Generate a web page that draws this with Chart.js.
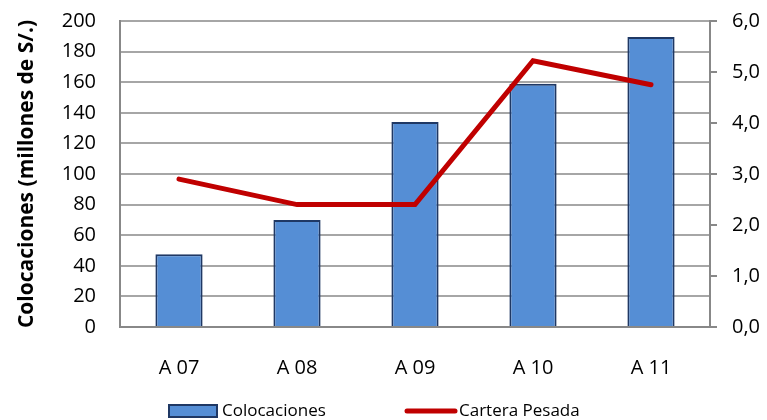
<!DOCTYPE html>
<html><head><meta charset="utf-8">
<script src="https://cdn.jsdelivr.net/npm/chart.js@4"></script>
<style>html,body{margin:0;padding:0;background:#fff}#w{width:767px;height:420px}</style>
</head><body><div id="w"><canvas id="c"></canvas></div>
<script>
const categories = ["A 07","A 08","A 09","A 10","A 11"];
const colocaciones = [47.5, 70, 134, 159, 189.5];
const carteraPesada = [2.9, 2.4, 2.4, 5.22, 4.75];
const FONT = "'Open Sans', 'Noto Sans', sans-serif";
Chart.defaults.font.family = FONT;
Chart.defaults.color = "#000";
const legendPlugin = {
  id:'customLegend',
  afterDraw(chart){
    const ctx = chart.ctx;
    const ds = chart.data.datasets;
    ctx.save();
    ctx.font = "17px " + FONT;
    ctx.textBaseline = 'middle';
    ctx.fillStyle = '#000';
    const bar = ds[1];
    ctx.fillStyle = bar.backgroundColor; ctx.fillRect(169, 405, 48, 12);
    ctx.strokeStyle = bar.borderColor; ctx.lineWidth = 2; ctx.strokeRect(169, 405, 48, 12);
    ctx.fillStyle = '#000'; ctx.fillText(bar.label, 222, 411);
    const ln = ds[0];
    ctx.strokeStyle = ln.borderColor; ctx.lineWidth = 5; ctx.lineCap = 'round';
    ctx.beginPath(); ctx.moveTo(407, 411); ctx.lineTo(455, 411); ctx.stroke();
    ctx.fillText(ln.label, 459, 411);
    ctx.restore();
  }
};
new Chart(document.getElementById('c'), {
  type: 'bar',
  data: {
    labels: categories,
    datasets: [
      {type:'line', label:'Cartera Pesada', data: carteraPesada, yAxisID:'y1',
       borderColor:'#c00000', backgroundColor:'#c00000', borderWidth:5,
       pointRadius:0, tension:0, order:0, borderCapStyle:'round'},
      {type:'bar', label:'Colocaciones', data: colocaciones, yAxisID:'y',
       backgroundColor:'#558ed5', borderColor:'#1f3864', borderWidth:2,
       categoryPercentage:1, barPercentage:0.4, order:1}
    ]
  },
  plugins:[legendPlugin],
  options: {
    responsive:true, maintainAspectRatio:false, animation:false,
    layout:{padding:{left:0,right:0,top:21,bottom:0}},
    plugins:{ legend:{display:false}, tooltip:{enabled:false} },
    scales:{
      x:{grid:{display:false, drawTicks:false}, border:{color:'#888', width:2},
         ticks:{font:{size:20}, padding:29},
         afterFit(s){ s.height = 93; s.paddingLeft = 0; s.paddingRight = 0; }},
      y:{position:'left', min:0, max:200,
         ticks:{stepSize:20, font:{size:20}, padding:24},
         grid:{color:'#a6a6a6', lineWidth:2, drawTicks:false},
         border:{color:'#888', width:2},
         title:{display:true, text:'Colocaciones (millones de S/.)', font:{size:21, weight:'bold'}, padding:{top:14,bottom:0}},
         afterFit(s){ s.width = 120; s.paddingTop = 0; s.paddingBottom = 0; }},
      y1:{position:'right', min:0, max:6,
         ticks:{stepSize:1, font:{size:20}, padding:15,
           callback:v=>v.toFixed(1).replace('.',',')},
         grid:{drawOnChartArea:false, color:'#888', lineWidth:2, tickLength:7},
         border:{color:'#888', width:2},
         afterFit(s){ s.width = 57; s.paddingTop = 0; s.paddingBottom = 0; }}
    }
  }
});
</script></body></html>
